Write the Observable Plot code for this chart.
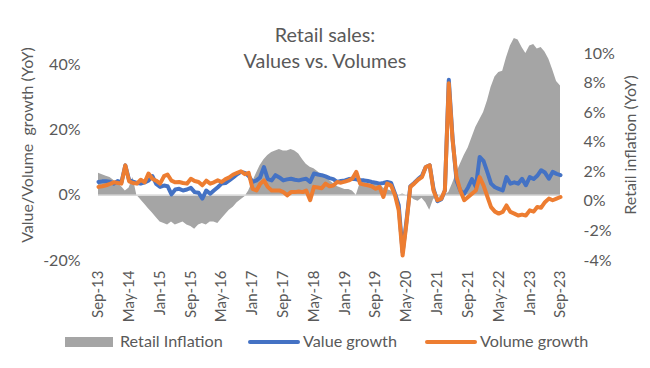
<!DOCTYPE html>
<html><head><meta charset="utf-8">
<script src="https://cdn.jsdelivr.net/npm/d3@7"></script>
<script src="https://cdn.jsdelivr.net/npm/@observablehq/plot@0.6"></script>
<style>
body{margin:0;background:#fff;}
#wrap{position:relative;width:650px;height:368px;font-family:Lato,"Open Sans",sans-serif;color:#595959;overflow:hidden;background:#fff}
#wrap svg{position:absolute;left:0;top:0}
.abs{position:absolute;white-space:pre;line-height:1}
.title{left:0;width:650px;text-align:center;font-size:19.8px;line-height:26px;top:21px}
.ytitle{font-size:16px;transform:translate(-50%,-50%) rotate(-90deg)}
.leg{font-size:16.2px;top:333px}
.sw{position:absolute}
</style></head><body><div id="wrap"></div>
<script>
// ---- data (monthly, Sep-13 .. Sep-23) ----
const startMonth = "2013-09";
const valueGrowth = [
4.1,4.3,4.3,4.2,3.6,4.4,4.0,9.2,4.7,4.2,3.8,3.6,4.0,4.5,5.9,3.5,2.6,3.0,2.8,0.3,
1.8,2.0,1.5,1.8,2.3,1.0,0.8,-1.0,1.5,0.5,1.5,2.5,3.6,3.8,4.6,5.5,6.5,7.2,6.9,6.0,
4.1,4.6,5.5,8.7,5.0,4.6,6.2,5.5,4.6,4.9,5.1,4.8,4.6,4.9,5.1,4.1,6.7,6.4,6.2,5.8,
5.3,5.0,4.1,4.4,4.6,5.0,5.1,4.9,4.6,4.6,4.4,4.1,3.9,3.6,3.8,4.1,3.8,0.5,-3.0,-17.5,
-8.0,2.8,3.8,5.0,6.0,8.7,9.2,2.0,-1.8,-1.2,1.5,35.5,17.5,4.5,1.5,0.5,2.5,5.0,2.6,11.8,
10.5,7.0,3.6,2.5,2.0,1.5,5.6,3.6,4.0,3.6,5.1,3.1,5.6,5.0,6.0,7.7,7.0,5.1,7.2,6.6,
6.2];
const volumeGrowth = [
2.6,2.8,3.1,3.5,4.0,3.8,3.6,9.2,4.3,3.8,3.6,4.8,4.0,6.7,5.1,4.5,3.6,5.9,6.4,4.5,
4.0,4.1,3.8,3.6,5.1,4.4,4.1,3.1,4.5,3.6,4.0,4.6,4.1,5.0,5.5,6.4,6.9,7.4,6.5,6.9,
2.0,1.5,3.5,4.6,2.6,1.5,1.5,1.5,1.0,0.0,1.0,1.0,1.2,1.0,1.5,-1.5,2.6,2.4,2.2,3.6,
2.8,3.0,4.1,3.9,4.2,4.6,5.2,7.2,3.6,3.3,3.1,2.8,2.0,2.6,-0.5,3.6,3.0,0.0,-4.6,-18.5,
-8.7,2.6,3.6,4.8,5.6,8.7,9.2,1.5,-1.5,-1.0,1.5,34.4,16.9,5.6,1.5,-1.5,-0.5,0.5,1.5,5.6,
3.0,-0.5,-3.6,-5.0,-5.6,-5.1,-3.1,-5.1,-5.6,-6.2,-5.9,-6.2,-4.6,-5.0,-3.6,-3.8,-2.1,-1.0,-1.5,-1.0,
-0.5];
const retailInflation = [
1.5,1.4,1.3,1.2,1.0,0.8,0.6,0.3,0.5,1.2,0.0,-0.3,-0.6,-0.9,-1.2,-1.5,-1.8,-1.9,-2.0,-1.8,
-2.0,-1.9,-1.8,-2.0,-2.1,-2.3,-2.0,-1.9,-2.0,-1.8,-1.8,-1.9,-1.6,-1.3,-1.0,-0.8,-0.5,-0.3,-0.1,0.3,
0.9,1.5,2.0,2.4,2.7,2.9,3.0,3.1,3.0,3.0,3.1,3.0,2.8,2.4,2.1,1.9,1.8,1.6,1.4,1.2,
1.0,0.8,0.6,0.5,0.4,0.4,0.3,0.0,0.8,0.9,0.8,0.7,0.8,0.8,0.5,0.4,0.3,0.2,0.0,0.1,
0.0,-0.1,-0.3,-0.4,-0.2,-0.5,-1.0,-0.3,0.0,-0.2,0.0,0.2,0.8,1.5,2.1,2.7,3.2,3.9,4.6,5.1,
5.6,6.4,7.3,8.0,8.3,8.4,9.3,10.1,10.6,10.5,10.0,9.6,10.1,10.2,9.9,10.0,9.7,9.2,8.5,7.7,
7.4];
const xTickLabels = ["Sep-13","May-14","Jan-15","Sep-15","May-16","Jan-17","Sep-17","May-18",
"Jan-19","Sep-19","May-20","Jan-21","Sep-21","May-22","Jan-23","Sep-23"];
const leftTicks = [-20, 0, 20, 40];
const rightTicks = [-4, -2, 0, 2, 4, 6, 8, 10];
const seriesNames = ["Retail Inflation", "Value growth", "Volume growth"];
const colors = ["#a5a5a5", "#4472c4", "#ed7d31"];
const titleLines = ["Retail sales:", "Values vs. Volumes"];
const leftTitle = "Value/Volume  growth (YoY)";
const rightTitle = "Retail inflation (YoY)";

// ---- build ----
const start = d3.utcParse("%Y-%m")(startMonth);
const months = valueGrowth.map((_, i) => d3.utcMonth.offset(start, i));
const K = 4.54;      // right-axis % -> left-axis units
const OFF = -1.84;   // right label offset (as drawn in the source)
const data = months.map((date, i) => ({date, value: valueGrowth[i], volume: volumeGrowth[i], infl: retailInflation[i]}));
const parseTick = d3.utcParse("%b-%y");
const xTicks = xTickLabels.map(parseTick);
const fmt = d3.utcFormat("%b-%y");

const chart = Plot.plot({
  width: 650, height: 368,
  marginLeft: 98, marginRight: 90, marginTop: 32, marginBottom: 108,
  style: {fontFamily: "Lato, 'Open Sans', sans-serif", fontSize: "16px", color: "#595959", background: "transparent"},
  x: {type: "utc", domain: [months[0], months[months.length - 1]]},
  y: {domain: [-20, 50]},
  marks: [
    Plot.areaY(data, {x: "date", y: d => d.infl * K, fill: colors[0]}),
    Plot.ruleY([0], {stroke: "#d9d9d9", strokeWidth: 1.3}),
    Plot.lineY(data, {x: "date", y: "value", stroke: colors[1], strokeWidth: 4, strokeLinejoin: "round"}),
    Plot.lineY(data, {x: "date", y: "volume", stroke: colors[2], strokeWidth: 4, strokeLinejoin: "round"}),
    Plot.axisY({anchor: "left", ticks: leftTicks, tickSize: 0, tickPadding: 18, tickFormat: d => d + "%", label: null, fill: "#595959"}),
    Plot.axisY({anchor: "right", ticks: rightTicks.map(r => r * K + OFF), tickSize: 0, tickPadding: 23,
      tickFormat: d => Math.round((d - OFF) / K) + "%", label: null, fill: "#595959"}),
    Plot.axisX({ticks: xTicks, tickSize: 0, tickRotate: -90, tickPadding: 10, tickFormat: fmt, label: null, fontSize: 15, fill: "#595959"})
  ]
});

const wrap = document.getElementById("wrap");
wrap.appendChild(chart);

function addDiv(cls, text, css) {
  const d = document.createElement("div");
  d.className = "abs " + cls;
  d.textContent = text;
  Object.assign(d.style, css || {});
  wrap.appendChild(d);
  return d;
}
addDiv("title", titleLines.join("\n"));
addDiv("ytitle", leftTitle, {left: "27px", top: "145px"});
addDiv("ytitle", rightTitle, {left: "630px", top: "145px"});

// legend
function sw(css) { const s = document.createElement("div"); s.className = "sw"; Object.assign(s.style, css); wrap.appendChild(s); }
sw({left: "65px", top: "337px", width: "48px", height: "10px", background: colors[0]});
addDiv("leg", seriesNames[0], {left: "120px"});
sw({left: "248px", top: "340px", width: "52px", height: "4px", borderRadius: "2px", background: colors[1]});
addDiv("leg", seriesNames[1], {left: "303px"});
sw({left: "425px", top: "340px", width: "52px", height: "4px", borderRadius: "2px", background: colors[2]});
addDiv("leg", seriesNames[2], {left: "480px"});
</script>
</body></html>
